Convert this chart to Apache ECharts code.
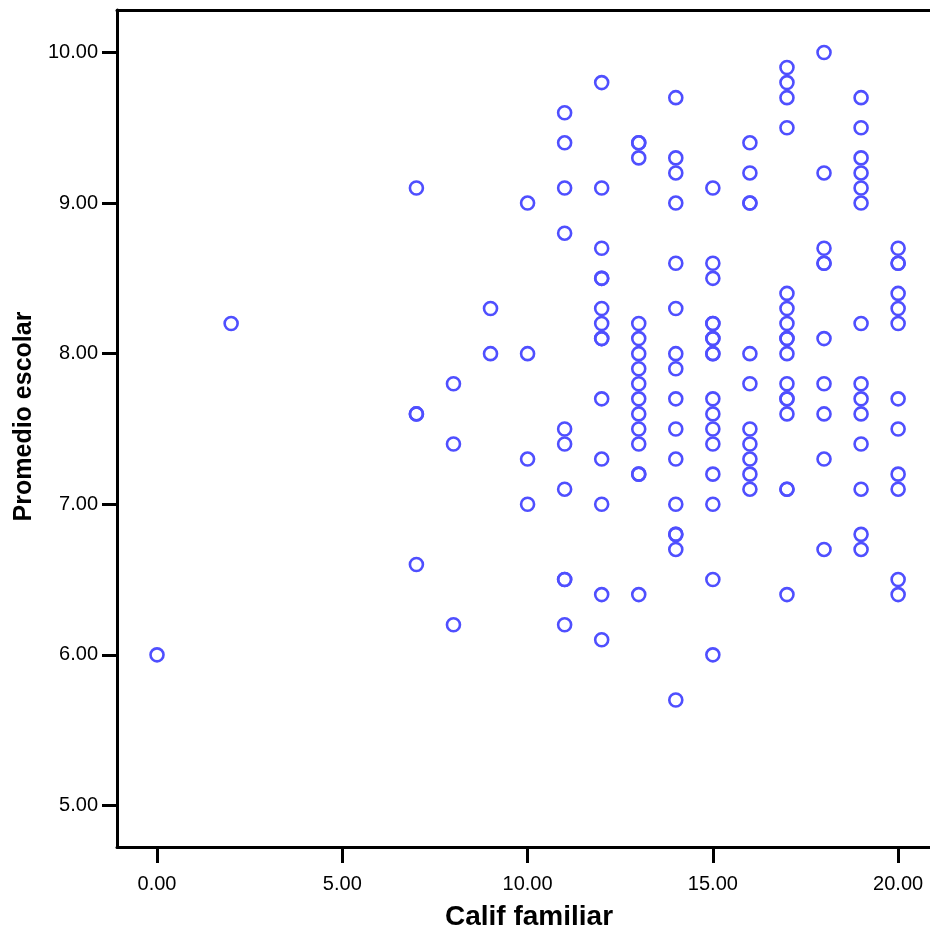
<!DOCTYPE html>
<html>
<head>
<meta charset="utf-8">
<script src="https://cdn.jsdelivr.net/npm/echarts@6/dist/echarts.min.js"></script>
<style>
html,body{margin:0;padding:0;background:#fff;}
#chart{width:930px;height:929px;}
</style>
</head>
<body>
<div id="chart"></div>
<script>
// Calif familiar values (x) and Promedio escolar values observed at each
const califValues = [0, 2, 7, 8, 9, 10, 11, 12, 13, 14, 15, 16, 17, 18, 19, 20];
const promedio0  = [6.0];
const promedio2  = [8.2];
const promedio7  = [9.1, 7.6, 7.6, 6.6];
const promedio8  = [7.8, 7.4, 6.2];
const promedio9  = [8.3, 8.0];
const promedio10 = [9.0, 8.0, 7.3, 7.0];
const promedio11 = [9.6, 9.4, 9.1, 8.8, 7.5, 7.4, 7.1, 6.5, 6.5, 6.2];
const promedio12 = [9.8, 9.1, 8.7, 8.5, 8.5, 8.3, 8.2, 8.1, 8.1, 7.7, 7.3, 7.0, 6.4, 6.1];
const promedio13 = [9.4, 9.4, 9.3, 8.2, 8.1, 8.0, 7.9, 7.8, 7.7, 7.6, 7.5, 7.4, 7.2, 7.2, 6.4];
const promedio14 = [9.7, 9.3, 9.2, 9.0, 8.6, 8.3, 8.0, 7.9, 7.7, 7.5, 7.3, 7.0, 6.8, 6.8, 6.7, 5.7];
const promedio15 = [9.1, 8.6, 8.5, 8.2, 8.2, 8.1, 8.1, 8.0, 8.0, 7.7, 7.6, 7.5, 7.4, 7.2, 7.0, 6.5, 6.0];
const promedio16 = [9.4, 9.2, 9.0, 9.0, 8.0, 7.8, 7.5, 7.4, 7.3, 7.2, 7.1];
const promedio17 = [9.9, 9.8, 9.7, 9.5, 8.4, 8.3, 8.2, 8.1, 8.1, 8.0, 7.8, 7.7, 7.7, 7.6, 7.1, 7.1, 6.4];
const promedio18 = [10.0, 9.2, 8.7, 8.6, 8.6, 8.1, 7.8, 7.6, 7.3, 6.7];
const promedio19 = [9.7, 9.5, 9.3, 9.2, 9.1, 9.0, 8.2, 7.8, 7.7, 7.6, 7.4, 7.1, 6.8, 6.7];
const promedio20 = [8.7, 8.6, 8.6, 8.4, 8.3, 8.2, 7.7, 7.5, 7.2, 7.1, 6.5, 6.4];
const promedioGroups = [promedio0, promedio2, promedio7, promedio8, promedio9, promedio10,
  promedio11, promedio12, promedio13, promedio14, promedio15, promedio16,
  promedio17, promedio18, promedio19, promedio20];

const xTickValues = [0, 5, 10, 15, 20];
const yTickValues = [5, 6, 7, 8, 9, 10];
const xAxisTitle = 'Calif familiar';
const yAxisTitle = 'Promedio escolar';

const points = [];
califValues.forEach((x, i) => {
  promedioGroups[i].forEach(y => points.push([x, y]));
});

const chart = echarts.init(document.getElementById('chart'), null, {renderer: 'canvas'});
const font = "'Liberation Sans', Arial, Helvetica, sans-serif";
const X_MIN = -1.08, X_MAX = 20.86;
chart.setOption({
  animation: false,
  backgroundColor: '#ffffff',
  grid: {left: 117, top: 10, right: 0, bottom: 82, show: false, containLabel: false, outerBoundsMode: 'none'},
  xAxis: [{
    type: 'value',
    min: X_MIN, max: X_MAX,
    name: xAxisTitle,
    nameLocation: 'middle',
    nameGap: 56,
    nameTextStyle: {fontFamily: font, fontSize: 28, fontWeight: 'bold', color: '#000', padding: [0, 0, 0, 11]},
    splitLine: {show: false},
    axisLine: {show: true, onZero: false, lineStyle: {color: '#000', width: 3}},
    axisTick: {show: true, length: 16, customValues: xTickValues, lineStyle: {color: '#000', width: 3}},
    axisLabel: {
      customValues: xTickValues, margin: 27,
      fontFamily: font, fontSize: 20, color: '#000',
      formatter: v => Number(v).toFixed(2)
    }
  }, {
    type: 'value',
    position: 'top',
    min: X_MIN, max: X_MAX,
    splitLine: {show: false},
    axisLine: {show: true, onZero: false, lineStyle: {color: '#000', width: 3}},
    axisTick: {show: false},
    axisLabel: {show: false}
  }],
  yAxis: {
    type: 'value',
    min: 4.724, max: 10.282,
    name: yAxisTitle,
    nameLocation: 'middle',
    nameGap: 76,
    nameRotate: 90,
    nameTextStyle: {fontFamily: font, fontSize: 25, fontWeight: 'bold', color: '#000', padding: [0, 0, 0, 24]},
    splitLine: {show: false},
    axisLine: {show: true, onZero: false, lineStyle: {color: '#000', width: 3}},
    axisTick: {show: true, length: 15, customValues: yTickValues, lineStyle: {color: '#000', width: 3}},
    axisLabel: {
      customValues: yTickValues, margin: 19,
      fontFamily: font, fontSize: 20, color: '#000',
      formatter: v => Number(v).toFixed(2)
    }
  },
  series: [{
    type: 'scatter',
    xAxisIndex: 0,
    data: points,
    symbol: 'circle',
    symbolSize: 13,
    itemStyle: {color: 'rgba(0,0,0,0)', borderColor: '#4f4fff', borderWidth: 2.6, opacity: 1},
    emphasis: {disabled: true}
  }]
});
</script>
</body>
</html>
